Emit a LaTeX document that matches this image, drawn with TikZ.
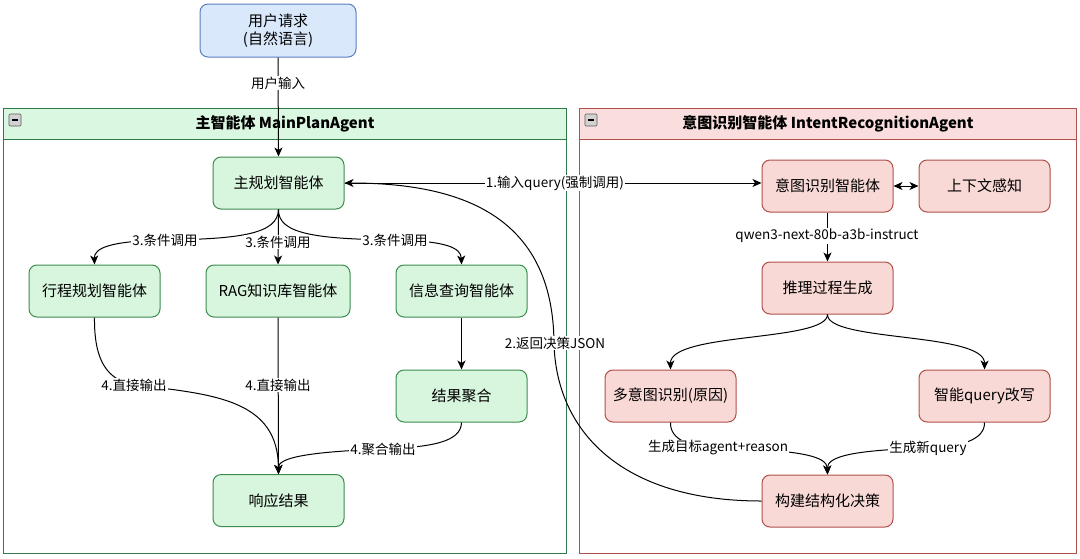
\documentclass[tikz,border=0pt]{standalone}
\usepackage{fontspec}
\setmainfont{Noto Sans CJK SC}
\usetikzlibrary{arrows.meta}
\definecolor{gfill}{HTML}{D8F5DD}
\definecolor{gline}{HTML}{3D8C50}
\definecolor{ghead}{HTML}{DAF8E1}
\definecolor{gcont}{HTML}{2E7A48}
\definecolor{rfill}{HTML}{F9D9D6}
\definecolor{rline}{HTML}{B0504A}
\definecolor{rhead}{HTML}{FADEDD}
\definecolor{bfill}{HTML}{DAE8FC}
\definecolor{bline}{HTML}{5A7DBF}
\tikzset{
  box/.style={rounded corners=8pt, line width=1pt, minimum height=52pt, inner sep=2pt,
    font=\fontsize{15}{18}\selectfont, align=center},
  gbox/.style={box, draw=gline, fill=gfill, minimum width=131pt},
  rbox/.style={box, draw=rline, fill=rfill, minimum width=131pt},
  bbox/.style={box, draw=bline, fill=bfill, minimum width=156pt, minimum height=53pt},
  arr/.style={-{Stealth[length=9pt,width=8pt,inset=2.5pt]}, line width=1pt, black},
  darr/.style={{Stealth[length=9pt,width=8pt,inset=2.5pt]}-{Stealth[length=9pt,width=8pt,inset=2.5pt]}, line width=1pt, black},
  lbl/.style={fill=white, inner sep=1pt, font=\fontsize{13.5}{16}\selectfont},
  hdr/.style={font=\fontsize{15}{18}\selectfont\bfseries},
  icon/.style={draw=gray!70!black, fill=gray!35, rounded corners=1pt, line width=0.6pt}
}
\begin{document}
\begin{tikzpicture}[x=1pt,y=-1pt]
\useasboundingbox (0,0) rectangle (1080,558);
\fill[white] (0,0) rectangle (1080,558);

% containers
\draw[gcont, line width=1pt, fill=white] (3,108) rectangle (566,553);
\draw[gcont, line width=1pt, fill=ghead] (3,108) rectangle (566,139);
\node[hdr] (hl) at (285,124) {主智能体 MainPlanAgent};
\draw[icon] (9,114) rectangle (21,126);
\draw[line width=1.2pt] (12,120) -- (18,120);

\draw[rline, line width=1pt, fill=white] (579,108) rectangle (1076,553);
\draw[rline, line width=1pt, fill=rhead] (579,108) rectangle (1076,139);
\node[hdr] (hr) at (828,124) {意图识别智能体 IntentRecognitionAgent};
\draw[icon] (585,114) rectangle (597,126);
\draw[line width=1.2pt] (588,120) -- (594,120);

% nodes
\node[bbox] (user) at (278,30.5) {用户请求\\(自然语言)};
\node[gbox] (main) at (278.5,183) {主规划智能体};
\node[gbox] (trip) at (94.5,291) {行程规划智能体};
\node[gbox, minimum width=144pt] (rag) at (278,291) {RAG知识库智能体};
\node[gbox] (info) at (461.5,291) {信息查询智能体};
\node[gbox] (agg) at (461.5,396) {结果聚合};
\node[gbox] (resp) at (278.5,500.5) {响应结果};

\node[rbox] (intent) at (827.5,186) {意图识别智能体};
\node[rbox] (ctx) at (984.5,186) {上下文感知};
\node[rbox] (reason) at (827.5,288) {推理过程生成};
\node[rbox] (multi) at (670.5,396) {多意图识别(原因)};
\node[rbox] (rewrite) at (984.5,396) {智能query改写};
\node[rbox] (build) at (827.5,501) {构建结构化决策};

% edges left
\draw[arr] (user.south) -- (main.north);
\draw[arr] (main.south) .. controls (278,234) and (240,239) .. (165,240)
  .. controls (110,241) and (94,248) .. (trip.north);
\draw[arr] (main.south) -- (rag.north);
\draw[arr] (main.south) .. controls (278,234) and (316,239) .. (395,240)
  .. controls (447,241) and (461,248) .. (info.north);
\draw[arr] (trip.south) .. controls (94,362) and (108,380) .. (134,385)
  .. controls (215,394) and (278,400) .. (resp.north);
\draw[arr] (rag.south) -- (resp.north);
\draw[arr] (info.south) -- (agg.north);
\draw[arr] (agg.south) .. controls (461,442) and (432,447) .. (383,449)
  .. controls (305,452) and (278,458) .. (resp.north);

% edges right
\draw[arr] (main.east) -- (main.east -| intent.west);
\draw[darr] (intent.east) -- (ctx.west);
\draw[arr] (intent.south) -- (reason.north);
\draw[arr] (reason.south) .. controls (827,342) and (670,332) .. (multi.north);
\draw[arr] (reason.south) .. controls (827,342) and (985,332) .. (rewrite.north);
\draw[arr] (multi.south) .. controls (670,440) and (690,447) .. (718,448)
  .. controls (800,450) and (827,456) .. (build.north);
\draw[arr] (rewrite.south) .. controls (985,440) and (960,447) .. (928,448)
  .. controls (855,450) and (827,456) .. (build.north);
\draw[arr] (build.west) .. controls (620,501) and (556,430) .. (554,343)
  .. controls (553,215) and (460,183) .. (main.east);

% labels
\node[lbl] (l0) at (278,83) {用户输入};
\node[lbl] (l1) at (555,183) {1.输入query(强制调用)};
\node[lbl] (l2) at (555,343) {2.返回决策JSON};
\node[lbl] (l3a) at (165,240) {3.条件调用};
\node[lbl] (l3b) at (278,242) {3.条件调用};
\node[lbl] (l3c) at (395,240) {3.条件调用};
\node[lbl] (l4a) at (134,385) {4.直接输出};
\node[lbl] (l4b) at (278,385) {4.直接输出};
\node[lbl] (l4c) at (383,449) {4.聚合输出};
\node[lbl] (lq) at (827,236) {qwen3-next-80b-a3b-instruct};
\node[lbl] (lg1) at (718,448) {生成目标agent+reason};
\node[lbl] (lg2) at (928,448) {生成新query};
\end{tikzpicture}
\end{document}
